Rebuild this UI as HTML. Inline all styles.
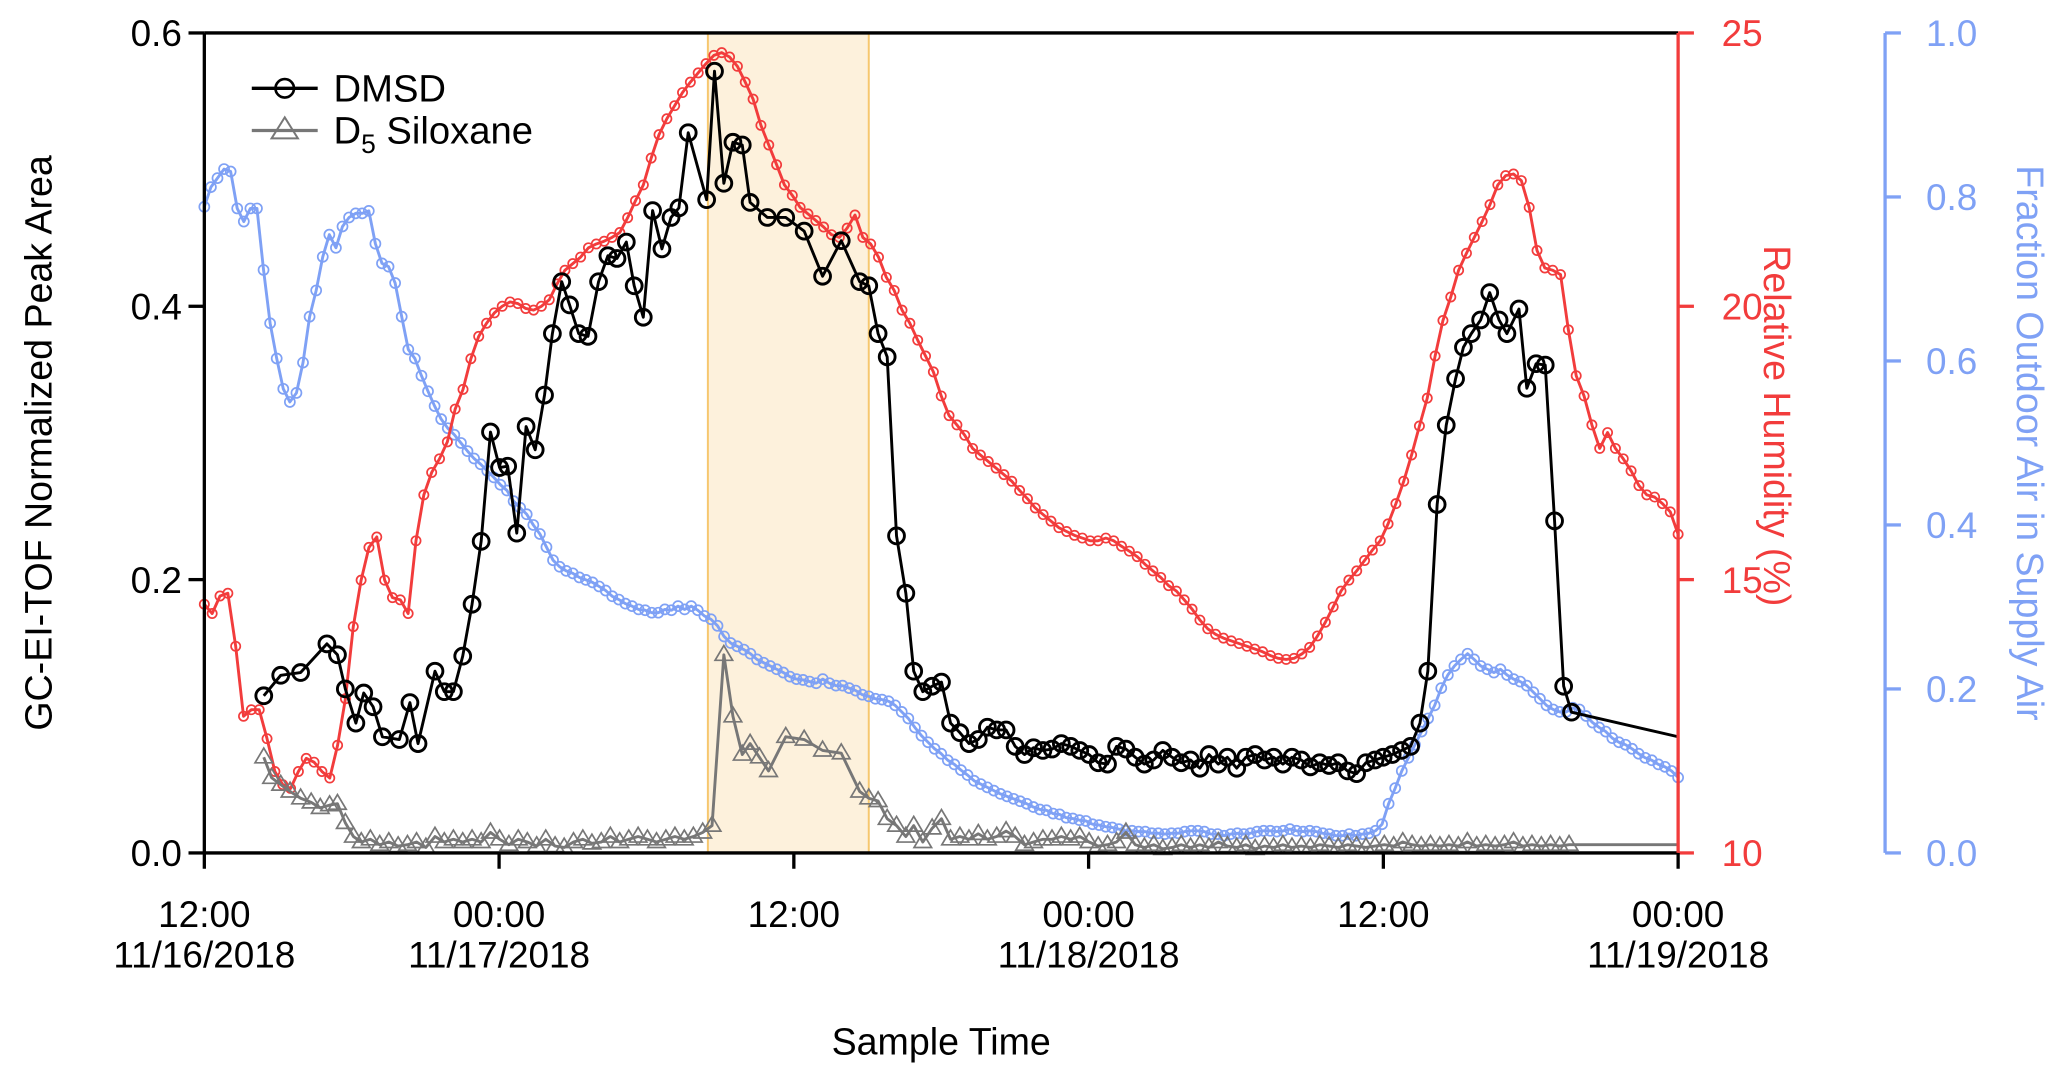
<!DOCTYPE html>
<html><head><meta charset="utf-8"><style>
html,body{margin:0;padding:0;background:#fff;}
svg{display:block;font-family:"Liberation Sans",Arial,sans-serif;}
</style></head><body>
<svg id="chart" width="2067" height="1081" viewBox="0 0 1568 820" preserveAspectRatio="none" xmlns="http://www.w3.org/2000/svg"></svg>
<script>
const dmsdTimes=[2.42,3.11,3.92,4.99,5.42,5.74,6.17,6.49,6.87,7.25,7.94,8.37,8.70,9.39,9.77,10.14,10.52,10.90,11.27,11.65,12.02,12.35,12.72,13.10,13.47,13.85,14.17,14.55,14.87,15.24,15.62,16.05,16.43,16.80,17.18,17.50,17.87,18.25,18.63,19.00,19.32,19.70,20.45,20.77,21.15,21.52,21.90,22.22,22.92,23.67,24.42,25.17,25.93,26.68,27.05,27.43,27.80,28.18,28.56,28.88,29.25,29.63,30.01,30.38,30.76,31.13,31.51,31.88,32.26,32.64,33.01,33.39,33.76,34.14,34.51,34.89,35.27,35.64,36.02,36.39,36.77,37.14,37.52,37.90,38.27,38.65,39.02,39.40,39.77,40.15,40.53,40.90,41.28,41.65,42.03,42.40,42.78,43.16,43.53,43.91,44.28,44.66,45.03,45.41,45.79,46.16,46.54,46.91,47.29,47.66,47.99,48.36,48.74,49.11,49.49,49.81,50.19,50.56,50.94,51.26,51.58,51.96,52.33,52.71,53.03,53.52,53.84,54.22,54.59,54.97,55.34,55.66,60.0];
const dmsdValues=[0.115,0.13,0.132,0.153,0.145,0.12,0.095,0.117,0.107,0.085,0.083,0.11,0.08,0.133,0.118,0.118,0.144,0.182,0.228,0.308,0.282,0.283,0.234,0.312,0.295,0.335,0.38,0.418,0.401,0.38,0.378,0.418,0.437,0.435,0.447,0.415,0.392,0.47,0.442,0.465,0.472,0.527,0.478,0.572,0.49,0.52,0.518,0.476,0.465,0.465,0.455,0.422,0.448,0.418,0.415,0.38,0.363,0.232,0.19,0.133,0.118,0.122,0.125,0.095,0.088,0.08,0.083,0.092,0.09,0.09,0.078,0.072,0.077,0.075,0.076,0.08,0.078,0.075,0.072,0.066,0.065,0.078,0.076,0.07,0.065,0.068,0.075,0.07,0.066,0.068,0.062,0.072,0.065,0.07,0.062,0.07,0.072,0.068,0.07,0.065,0.07,0.068,0.063,0.066,0.064,0.066,0.06,0.058,0.066,0.068,0.07,0.072,0.075,0.078,0.095,0.133,0.255,0.313,0.347,0.37,0.38,0.39,0.41,0.39,0.38,0.398,0.34,0.358,0.357,0.243,0.122,0.103,0.085];
const d5Times=[2.42,2.74,3.11,3.49,3.92,4.35,4.72,5.10,5.42,5.74,6.07,6.39,6.76,7.14,7.51,7.89,8.27,8.64,9.02,9.39,9.77,10.14,10.52,10.90,11.27,11.65,12.02,12.40,12.78,13.15,13.53,13.90,14.28,14.65,15.03,15.41,15.78,16.16,16.53,16.91,17.28,17.66,18.04,18.41,18.79,19.16,19.54,19.91,20.29,20.67,21.15,21.52,21.90,22.22,22.60,22.97,23.67,24.42,25.17,25.93,26.68,27.05,27.43,27.80,28.18,28.56,28.88,29.25,29.63,30.01,30.38,30.76,31.13,31.51,31.88,32.26,32.64,33.01,33.39,33.76,34.14,34.51,34.89,35.27,35.64,36.02,36.39,36.77,37.14,37.52,37.90,38.27,38.65,39.02,39.40,39.77,40.15,40.53,40.90,41.28,41.65,42.03,42.40,42.78,43.16,43.53,43.91,44.28,44.66,45.03,45.41,45.79,46.16,46.54,46.91,47.29,47.66,48.04,48.42,48.79,49.17,49.54,49.92,50.30,50.67,51.05,51.42,51.80,52.17,52.55,52.93,53.30,53.68,54.05,54.43,54.81,55.18,55.56,60.0];
const d5Values=[0.07,0.055,0.05,0.045,0.04,0.037,0.033,0.035,0.036,0.022,0.012,0.008,0.01,0.006,0.008,0.005,0.006,0.008,0.004,0.012,0.008,0.01,0.008,0.01,0.008,0.015,0.01,0.006,0.01,0.008,0.005,0.01,0.005,0.004,0.008,0.01,0.007,0.008,0.012,0.008,0.01,0.012,0.01,0.008,0.01,0.012,0.01,0.012,0.015,0.02,0.145,0.1,0.072,0.08,0.07,0.06,0.085,0.083,0.075,0.073,0.045,0.04,0.038,0.025,0.02,0.012,0.02,0.008,0.018,0.025,0.01,0.012,0.01,0.014,0.01,0.012,0.016,0.012,0.006,0.008,0.01,0.01,0.012,0.01,0.012,0.008,0.005,0.006,0.008,0.015,0.006,0.004,0.006,0.003,0.004,0.006,0.004,0.006,0.004,0.008,0.005,0.004,0.006,0.003,0.005,0.004,0.006,0.004,0.005,0.004,0.006,0.005,0.004,0.006,0.005,0.004,0.005,0.006,0.005,0.008,0.006,0.005,0.006,0.005,0.006,0.005,0.008,0.005,0.006,0.005,0.006,0.008,0.005,0.006,0.005,0.006,0.005,0.006,0.006];
const rhValues=[14.55,14.38,14.70,14.75,13.78,12.50,12.62,12.62,12.09,11.49,11.25,11.18,11.49,11.73,11.66,11.49,11.37,11.97,12.82,14.14,14.99,15.59,15.78,14.99,14.67,14.63,14.38,15.71,16.55,16.96,17.21,17.52,18.12,18.48,19.04,19.45,19.69,19.88,20.00,20.08,20.05,19.96,19.93,20.00,20.12,20.41,20.66,20.78,20.90,21.07,21.14,21.19,21.26,21.35,21.62,21.93,22.22,22.71,23.14,23.43,23.67,23.91,24.10,24.27,24.44,24.59,24.64,24.56,24.39,24.10,23.79,23.31,22.95,22.59,22.22,22.03,21.81,21.69,21.57,21.45,21.31,21.26,21.43,21.67,21.26,21.14,20.90,20.53,20.29,19.93,19.69,19.38,19.09,18.80,18.36,18.00,17.83,17.64,17.40,17.28,17.16,17.04,16.92,16.80,16.63,16.48,16.31,16.19,16.07,15.95,15.88,15.81,15.76,15.71,15.71,15.76,15.71,15.61,15.52,15.42,15.28,15.16,15.04,14.89,14.79,14.63,14.46,14.26,14.10,14.00,13.93,13.88,13.83,13.78,13.73,13.68,13.61,13.56,13.54,13.56,13.64,13.76,13.97,14.22,14.50,14.79,14.99,15.16,15.35,15.54,15.71,16.02,16.39,16.80,17.28,17.81,18.32,19.09,19.74,20.17,20.66,20.97,21.26,21.55,21.86,22.22,22.39,22.42,22.30,21.81,21.02,20.70,20.66,20.58,19.57,18.73,18.36,17.83,17.40,17.69,17.40,17.21,16.99,16.72,16.55,16.51,16.39,16.24,15.83];
const oaValues=[0.788,0.812,0.823,0.834,0.831,0.786,0.770,0.786,0.786,0.711,0.646,0.603,0.566,0.550,0.561,0.598,0.654,0.686,0.727,0.754,0.738,0.764,0.775,0.780,0.780,0.783,0.743,0.719,0.715,0.695,0.654,0.614,0.603,0.582,0.563,0.545,0.529,0.518,0.510,0.500,0.490,0.481,0.474,0.466,0.458,0.449,0.442,0.429,0.421,0.413,0.400,0.389,0.373,0.357,0.349,0.344,0.341,0.336,0.333,0.330,0.325,0.320,0.313,0.309,0.304,0.301,0.297,0.296,0.293,0.293,0.297,0.296,0.301,0.297,0.301,0.296,0.289,0.285,0.277,0.264,0.256,0.252,0.248,0.243,0.236,0.232,0.228,0.224,0.220,0.215,0.212,0.211,0.209,0.207,0.212,0.207,0.204,0.204,0.201,0.198,0.193,0.191,0.188,0.187,0.185,0.180,0.172,0.164,0.153,0.143,0.135,0.127,0.121,0.113,0.108,0.101,0.095,0.088,0.084,0.080,0.076,0.072,0.069,0.066,0.063,0.060,0.056,0.053,0.052,0.048,0.047,0.043,0.042,0.040,0.039,0.035,0.034,0.032,0.031,0.029,0.027,0.027,0.026,0.026,0.024,0.024,0.023,0.024,0.024,0.026,0.027,0.027,0.026,0.023,0.023,0.021,0.023,0.024,0.023,0.024,0.026,0.027,0.027,0.026,0.027,0.029,0.027,0.026,0.027,0.026,0.024,0.023,0.021,0.021,0.023,0.021,0.023,0.024,0.027,0.035,0.060,0.079,0.100,0.116,0.132,0.148,0.164,0.180,0.201,0.217,0.228,0.236,0.243,0.236,0.228,0.224,0.220,0.224,0.217,0.212,0.209,0.204,0.196,0.188,0.180,0.175,0.172,0.172,0.177,0.175,0.167,0.159,0.153,0.148,0.140,0.135,0.132,0.127,0.121,0.116,0.113,0.108,0.105,0.100,0.092];
const xTickHours=[0,12,24,36,48,60];
const xTickTimes=["12:00","00:00","12:00","00:00","12:00","00:00"];
const xTickDates=["11/16/2018","11/17/2018","","11/18/2018","","11/19/2018"];
const leftTicks=[0,0.2,0.4,0.6];
const rhTicks=[10,15,20,25];
const oaTicks=[0,0.2,0.4,0.6,0.8,1.0];
const bandStart=20.5, bandEnd=27.05;

const NS="http://www.w3.org/2000/svg";
const svg=document.getElementById('chart');
const X0=155,X1=1273,YT=25,YB=647,FS=28;
const xs=h=>X0+(h/60)*(X1-X0);
const yL=v=>YB-(v/0.6)*(YB-YT);
const yR=v=>YB-((v-10)/15)*(YB-YT);
const yO=v=>YB-v*(YB-YT);
function el(tag,attrs,parent){const e=document.createElementNS(NS,tag);for(const k in attrs)e.setAttribute(k,attrs[k]);(parent||svg).appendChild(e);return e;}
function txt(x,y,s,attrs,parent){const t=el('text',Object.assign({x:x,y:y},attrs),parent);t.textContent=s;return t;}

const band=el('rect',{x:xs(bandStart),y:YT,width:xs(bandEnd)-xs(bandStart),height:YB-YT,fill:'#fdf1dc',stroke:'#f6c76e','stroke-width':1.5});



function series(name,times,vals,yf,color,sw,marker,r,msw,lastNoMarker){
  const g=el('g',{});
  
  
  let d='';
  vals.forEach((v,i)=>{d+=(i?'L':'M')+xs(times(i)).toFixed(2)+' '+yf(v).toFixed(2);});
  el('path',{d:d,fill:'none',stroke:color,'stroke-width':sw,'stroke-linejoin':'round'},g);
  vals.forEach((v,i)=>{
    if(lastNoMarker&&i===vals.length-1)return;
    const cx=xs(times(i)),cy=yf(v);
    let m;
    if(marker==='circle') m=el('circle',{cx:cx,cy:cy,r:r,fill:'none',stroke:color,'stroke-width':msw},g);
    else m=el('path',{d:`M${cx} ${cy-r}L${cx+r*0.95} ${cy+r*0.6}L${cx-r*0.95} ${cy+r*0.6}Z`,fill:'none',stroke:color,'stroke-width':msw},g);
    
    
  });
}
series('outdoor-air-series',i=>i*60/(oaValues.length-1),oaValues,yO,'#7fa1f5',2.2,'circle',3.8,1.3,false);
series('humidity-series',i=>i*60/(rhValues.length-1),rhValues,yR,'#f23c3c',2.2,'circle',3.5,1.3,false);
series('d5-siloxane-series',i=>d5Times[i],d5Values,yL,'#777',2.2,'tri',7,1.3,true);
series('dmsd-series',i=>dmsdTimes[i],dmsdValues,yL,'#000',2.2,'circle',6,2.2,true);

const ax=el('g',{});
el('line',{x1:X0,y1:YT,x2:X1,y2:YT,stroke:'#000','stroke-width':2.5},ax);
el('line',{x1:X0,y1:YT,x2:X0,y2:YB,stroke:'#000','stroke-width':2.5},ax);
el('line',{x1:X0,y1:YB,x2:X1,y2:YB,stroke:'#000','stroke-width':2.5},ax);
el('line',{x1:X1,y1:YT,x2:X1,y2:YB,stroke:'#f23c3c','stroke-width':2.5},ax);
el('line',{x1:1430,y1:YT,x2:1430,y2:YB,stroke:'#7fa1f5','stroke-width':2.5},ax);
leftTicks.forEach(v=>{el('line',{x1:X0-12,y1:yL(v),x2:X0,y2:yL(v),stroke:'#000','stroke-width':2.5},ax);
  const t=txt(X0-17,yL(v)+10,v.toFixed(1),{'font-size':FS,'text-anchor':'end',fill:'#000'},ax);});
rhTicks.forEach(v=>{el('line',{x1:X1,y1:yR(v),x2:X1+12,y2:yR(v),stroke:'#f23c3c','stroke-width':2.5},ax);
  const t=txt(X1+33,yR(v)+10,String(v),{'font-size':FS,fill:'#f23c3c'},ax);});
oaTicks.forEach(v=>{el('line',{x1:1430,y1:yO(v),x2:1442,y2:yO(v),stroke:'#7fa1f5','stroke-width':2.5},ax);
  const t=txt(1461,yO(v)+10,v.toFixed(1),{'font-size':FS,fill:'#7fa1f5'},ax);});
xTickHours.forEach((h,i)=>{el('line',{x1:xs(h),y1:YB,x2:xs(h),y2:YB+12,stroke:'#000','stroke-width':2.5},ax);
  const t=txt(xs(h),703,xTickTimes[i],{'font-size':FS,'text-anchor':'middle'},ax);
  if(xTickDates[i]){const t2=txt(xs(h),734,xTickDates[i],{'font-size':FS,'text-anchor':'middle'},ax);}});
</script>
<script>
(function(){
const svg=document.getElementById('chart');const NS="http://www.w3.org/2000/svg";
function t(x,y,s,a,name){const e=document.createElementNS(NS,'text');e.setAttribute('x',x);e.setAttribute('y',y);for(const k in a)e.setAttribute(k,a[k]);e.textContent=s;


svg.appendChild(e);return e;}
t(714,800,'Sample Time',{'font-size':28.5,'text-anchor':'middle'},'x-axis-title');
t(39,336,'GC-EI-TOF Normalized Peak Area',{'font-size':28.5,'text-anchor':'middle',transform:'rotate(-90 39 336)'},'left-axis-title');
t(1338,323,'Relative Humidity (%)',{'font-size':28.5,'text-anchor':'middle',fill:'#f23c3c',transform:'rotate(90 1338 323)'},'rh-axis-title');
t(1530,336,'Fraction Outdoor Air in Supply Air',{'font-size':28.5,'text-anchor':'middle',fill:'#7fa1f5',transform:'rotate(90 1530 336)'},'oa-axis-title');
const g=document.createElementNS(NS,'g');


svg.appendChild(g);
g.innerHTML='<line x1="191" y1="67" x2="241" y2="67" stroke="#000" stroke-width="2.5"/><circle cx="216" cy="67" r="7" fill="none" stroke="#000" stroke-width="2"/>'+
'<line x1="191" y1="99" x2="241" y2="99" stroke="#777" stroke-width="2.5"/><path d="M216 89L226 105L206 105Z" fill="none" stroke="#777" stroke-width="1.5"/>'+
'<text x="253" y="77" font-size="29">DMSD</text>'+
'<text x="253" y="109" font-size="29">D<tspan font-size="20" dy="7">5</tspan><tspan dy="-7"> Siloxane</tspan></text>';
})();
</script>
</body></html>
